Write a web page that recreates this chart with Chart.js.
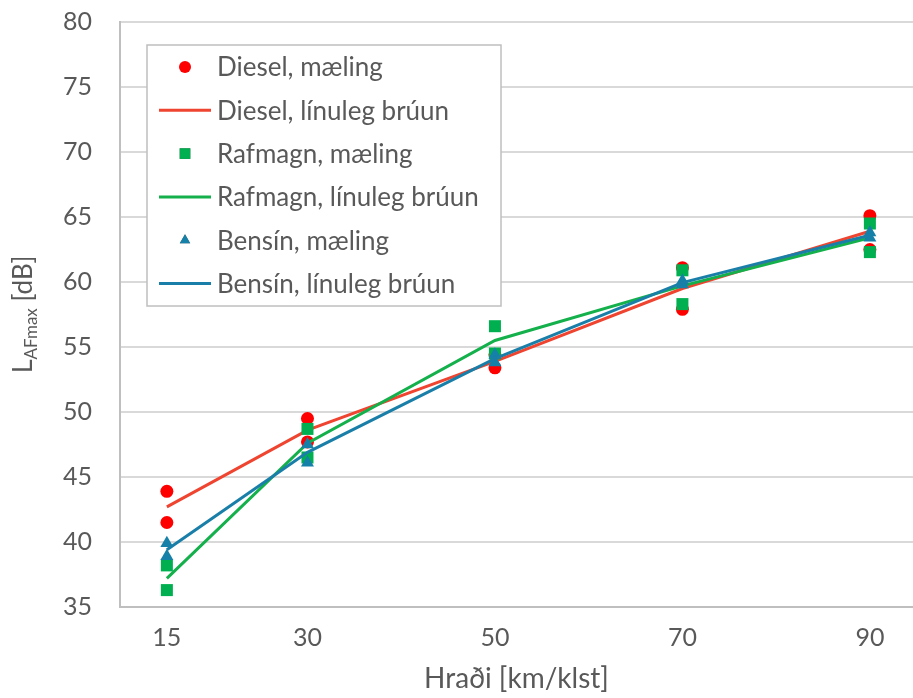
<!DOCTYPE html>
<html>
<head>
<meta charset="utf-8">
<script src="https://cdn.jsdelivr.net/npm/chart.js@4/dist/chart.umd.min.js"></script>
<style>
  html, body { margin: 0; padding: 0; background: #fff; }
  #wrap { width: 913px; height: 698px; }
</style>
</head>
<body>
<div id="wrap"><canvas id="lafChart" width="913" height="698"></canvas></div>
<script>
// speeds (km/klst)
var speeds = [15, 30, 50, 70, 90];
var yTicks = [35, 40, 45, 50, 55, 60, 65, 70, 75, 80];

// measurements, two per speed
var dieselMeas  = [[43.9, 41.5], [49.5, 47.7], [54.4, 53.4], [61.1, 57.9], [65.1, 62.5]];
var rafmagnMeas = [[38.2, 36.3], [48.7, 46.5], [56.6, 54.5], [60.9, 58.3], [64.5, 62.3]];
var bensinMeas  = [[39.9, 38.9], [47.5, 46.1], [54.4, 53.8], [60.1, 59.8], [63.8, 63.4]];

// linear interpolation lines
var dieselFit  = [42.7, 48.6, 53.9, 59.5, 63.9];
var rafmagnFit = [37.2, 47.6, 55.5, 59.7, 63.4];
var bensinFit  = [39.4, 46.9, 54.1, 59.95, 63.6];

var labels = ['Diesel, mæling', 'Diesel, línuleg brúun', 'Rafmagn, mæling',
              'Rafmagn, línuleg brúun', 'Bensín, mæling', 'Bensín, línuleg brúun'];

var FONT = 'Lato';
var TXT = '#595959';

function measPts(arr) {
  var out = [];
  speeds.forEach(function (s, i) {
    arr[i].forEach(function (v) { out.push({ x: s, y: v }); });
  });
  return out;
}
function fitPts(arr) {
  return speeds.map(function (s, i) { return { x: s, y: arr[i] }; });
}

function scatterSet(label, data, style, color, r, order) {
  return {
    type: 'scatter', label: label, data: data, order: order,
    pointStyle: style, pointRadius: r, pointHoverRadius: r,
    backgroundColor: color, borderColor: color, borderWidth: 0, showLine: false
  };
}
function lineSet(label, data, color, order) {
  return {
    type: 'line', label: label, data: data, order: order,
    borderColor: color, backgroundColor: color, borderWidth: 3,
    pointRadius: 0, tension: 0, fill: false
  };
}

// legend box drawn inside the plot
var boxLegend = {
  id: 'boxLegend',
  afterDraw: function (chart) {
    var ctx = chart.ctx;
    var x0 = 147, y0 = 45, w = 354, h = 261, step = 43.3;
    ctx.save();
    ctx.fillStyle = '#fff';
    ctx.fillRect(x0, y0, w, h);
    ctx.strokeStyle = '#BFBFBF';
    ctx.lineWidth = 1.5;
    ctx.strokeRect(x0, y0, w, h);
    ctx.font = '26px ' + FONT;
    ctx.textBaseline = 'middle';
    chart.data.datasets.forEach(function (ds, i) {
      var cy = 67 + i * step;
      if (ds.type === 'line') {
        ctx.strokeStyle = ds.borderColor;
        ctx.lineWidth = 3;
        ctx.beginPath(); ctx.moveTo(159, cy); ctx.lineTo(211, cy); ctx.stroke();
      } else {
        Chart.helpers.drawPoint(ctx, { pointStyle: ds.pointStyle, radius: ds.pointStyle === 'rect' ? 7.5 : 6, rotation: 0, borderWidth: 0 }, 185, cy);
        ctx.fillStyle = ds.backgroundColor;
        ctx.fill();
      }
      ctx.fillStyle = TXT;
      ctx.fillText(ds.label, 217, cy + 1);
    });
    ctx.restore();
  }
};

// y axis title with subscript
var yTitle = {
  id: 'yTitle',
  afterDraw: function (chart) {
    var ctx = chart.ctx;
    var a = chart.chartArea;
    ctx.save();
    ctx.translate(32, (a.top + a.bottom) / 2);
    ctx.rotate(-Math.PI / 2);
    ctx.fillStyle = TXT;
    ctx.textBaseline = 'alphabetic';
    var parts = [['L', '27px ' + FONT, 0], ['AFmax', '17px ' + FONT, 5], [' [dB]', '26px ' + FONT, 0]];
    var total = 0;
    parts.forEach(function (p) { ctx.font = p[1]; total += ctx.measureText(p[0]).width; });
    var x = -total / 2;
    parts.forEach(function (p) {
      ctx.font = p[1];
      ctx.fillText(p[0], x, p[2]);
      x += ctx.measureText(p[0]).width;
    });
    ctx.restore();
  }
};

var ctx = document.getElementById('lafChart').getContext('2d');
var chart = new Chart(ctx, {
  data: {
    datasets: [
      scatterSet(labels[0], measPts(dieselMeas), 'circle', '#FF0000', 6.5, 6),
      lineSet(labels[1], fitPts(dieselFit), '#EE4430', 5),
      scatterSet(labels[2], measPts(rafmagnMeas), 'rect', '#00B050', 8.5, 4),
      lineSet(labels[3], fitPts(rafmagnFit), '#14B04C', 3),
      scatterSet(labels[4], measPts(bensinMeas), 'triangle', '#1580A8', 7.5, 2),
      lineSet(labels[5], fitPts(bensinFit), '#1A7FA8', 1)
    ]
  },
  options: {
    responsive: false,
    animation: false,
    layout: { autoPadding: false, padding: { top: 22, right: 0, left: 0, bottom: 0 } },
    plugins: { legend: { display: false }, tooltip: { enabled: false } },
    scales: {
      x: {
        type: 'linear', min: 10, max: 94.6,
        afterBuildTicks: function (s) { s.ticks = speeds.map(function (v) { return { value: v }; }); },
        afterFit: function (s) { s.height = 91; s.paddingLeft = 0; s.paddingRight = 0; },
        grid: { display: false },
        border: { display: true, color: '#BFBFBF', width: 2 },
        ticks: { color: TXT, font: { family: FONT, size: 25 }, padding: 8, maxRotation: 0, autoSkip: false },
        title: { display: true, text: 'Hraði [km/klst]', color: TXT, font: { family: FONT, size: 28 }, padding: { top: 0, bottom: 2 } }
      },
      y: {
        min: 35, max: 80,
        afterBuildTicks: function (s) { s.ticks = yTicks.map(function (v) { return { value: v }; }); },
        afterFit: function (s) { s.width = 120; s.paddingTop = 0; s.paddingBottom = 0; },
        grid: { color: '#D9D9D9', lineWidth: 2, drawTicks: false },
        border: { display: true, color: '#BFBFBF', width: 2 },
        ticks: { color: TXT, font: { family: FONT, size: 25 }, padding: 28 }
      }
    }
  },
  plugins: [boxLegend, yTitle]
});
</script>
</body>
</html>
